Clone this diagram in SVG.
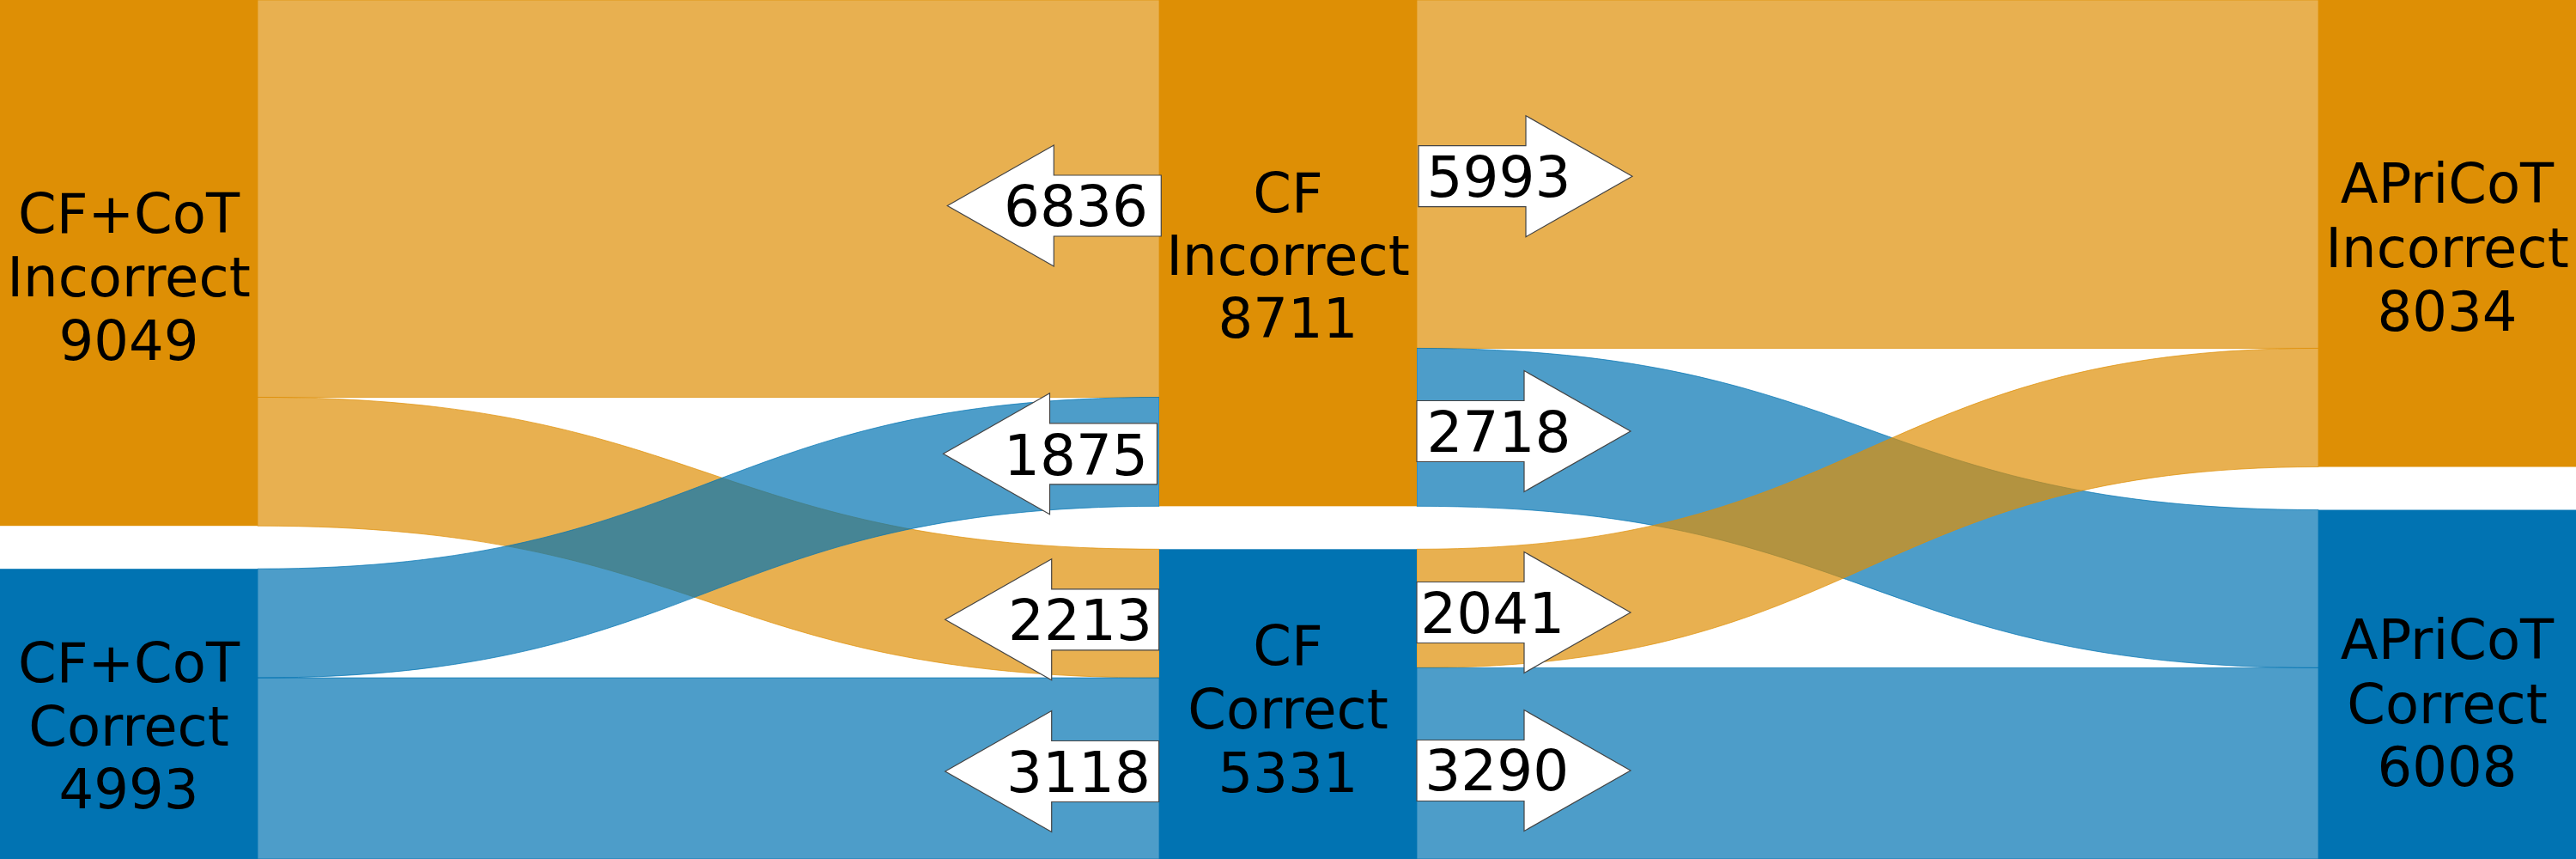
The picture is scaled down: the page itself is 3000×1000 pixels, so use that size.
<svg xmlns="http://www.w3.org/2000/svg" width="3000" height="1000" viewBox="0 0 3000 1000">
<defs>
<style>
.fo{fill:#DE8F05;fill-opacity:0.7;stroke:#DE8F05;stroke-opacity:0.7;stroke-width:1}
.fb{fill:#0173B2;fill-opacity:0.7;stroke:#0173B2;stroke-opacity:0.7;stroke-width:1}
.no{fill:#DE8F05}
.nb{fill:#0173B2}
.lbl{font-family:"DejaVu Sans","Liberation Sans",sans-serif;font-size:64px;fill:#000;text-anchor:middle}
.num{font-family:"DejaVu Sans","Liberation Sans",sans-serif;font-size:66px;fill:#000;text-anchor:middle}
.arr{fill:#fff;stroke:#444;stroke-width:1.2;stroke-linejoin:miter}
</style>
<polygon id="la" points="0,0 124,-70.5 124,-35.5 249,-35.5 249,35.5 124,35.5 124,70.5"/>
<polygon id="ra" points="0,0 -124,-70.5 -124,-35.5 -249,-35.5 -249,35.5 -124,35.5 -124,70.5"/>
</defs>
<rect width="3000" height="1000" fill="#fff"/>
<g id="connectors">
<path class="fo" d="M300,0 L1350,0 L1350,462.48 L300,462.48 Z"/>
<path class="fo" d="M300,462.48 C825,462.48 825,639.33 1350,639.33 L1350,789.05 C825,789.05 825,612.20 300,612.20 Z"/>
<path class="fb" d="M300,662.20 C825,662.20 825,462.48 1350,462.48 L1350,589.33 C825,589.33 825,789.05 300,789.05 Z"/>
<path class="fb" d="M300,789.05 L1350,789.05 L1350,1000 L300,1000 Z"/>
<path class="fo" d="M1650,0 L2700,0 L2700,405.45 L1650,405.45 Z"/>
<path class="fb" d="M1650,405.45 C2175,405.45 2175,593.53 2700,593.53 L2700,777.41 C2175,777.41 2175,589.33 1650,589.33 Z"/>
<path class="fo" d="M1650,639.33 C2175,639.33 2175,405.45 2700,405.45 L2700,543.53 C2175,543.53 2175,777.41 1650,777.41 Z"/>
<path class="fb" d="M1650,777.41 L2700,777.41 L2700,1000 L1650,1000 Z"/>
</g>
<g id="cfcot-incorrect">
<rect class="no" x="0" y="0" width="300" height="612.2"/>
<text class="lbl" x="150" y="271">CF+CoT</text>
<text class="lbl" x="150" y="344.5">Incorrect</text>
<text class="lbl" x="150" y="418.5">9049</text>
</g>
<g id="cfcot-correct">
<rect class="nb" x="0" y="662.2" width="300" height="337.8"/>
<text class="lbl" x="150" y="794">CF+CoT</text>
<text class="lbl" x="150" y="867.5">Correct</text>
<text class="lbl" x="150" y="941">4993</text>
</g>
<g id="cf-incorrect">
<rect class="no" x="1350" y="0" width="300" height="589.33"/>
<text class="lbl" x="1500" y="246.7">CF</text>
<text class="lbl" x="1500" y="320">Incorrect</text>
<text class="lbl" x="1500" y="393.3">8711</text>
</g>
<g id="cf-correct">
<rect class="nb" x="1350" y="639.33" width="300" height="360.67"/>
<text class="lbl" x="1500" y="774">CF</text>
<text class="lbl" x="1500" y="848">Correct</text>
<text class="lbl" x="1500" y="921.5">5331</text>
</g>
<g id="apricot-incorrect">
<rect class="no" x="2700" y="0" width="300" height="543.53"/>
<text class="lbl" x="2850" y="236">APriCoT</text>
<text class="lbl" x="2850" y="310.5">Incorrect</text>
<text class="lbl" x="2850" y="384.5">8034</text>
</g>
<g id="apricot-correct">
<rect class="nb" x="2700" y="593.53" width="300" height="406.47"/>
<text class="lbl" x="2850" y="767">APriCoT</text>
<text class="lbl" x="2850" y="841.5">Correct</text>
<text class="lbl" x="2850" y="915">6008</text>
</g>
<g id="arrow-6836">
<use href="#la" class="arr" x="1103.3" y="239.5"/>
<text class="num" x="1253" y="262.7">6836</text>
</g>
<g id="arrow-1875">
<use href="#la" class="arr" x="1098.5" y="528.3"/>
<text class="num" x="1253" y="552.7">1875</text>
</g>
<g id="arrow-2213">
<use href="#la" class="arr" x="1100.7" y="721.3"/>
<text class="num" x="1258" y="745.3">2213</text>
</g>
<g id="arrow-3118">
<use href="#la" class="arr" x="1100.7" y="898"/>
<text class="num" x="1256" y="921.7">3118</text>
</g>
<g id="arrow-5993">
<use href="#ra" class="arr" x="1901" y="205.2"/>
<text class="num" x="1745.5" y="229">5993</text>
</g>
<g id="arrow-2718">
<use href="#ra" class="arr" x="1899" y="502"/>
<text class="num" x="1745.5" y="526">2718</text>
</g>
<g id="arrow-2041">
<use href="#ra" class="arr" x="1899" y="713"/>
<text class="num" x="1738.3" y="737">2041</text>
</g>
<g id="arrow-3290">
<use href="#ra" class="arr" x="1899" y="897"/>
<text class="num" x="1743.3" y="920">3290</text>
</g>
</svg>
